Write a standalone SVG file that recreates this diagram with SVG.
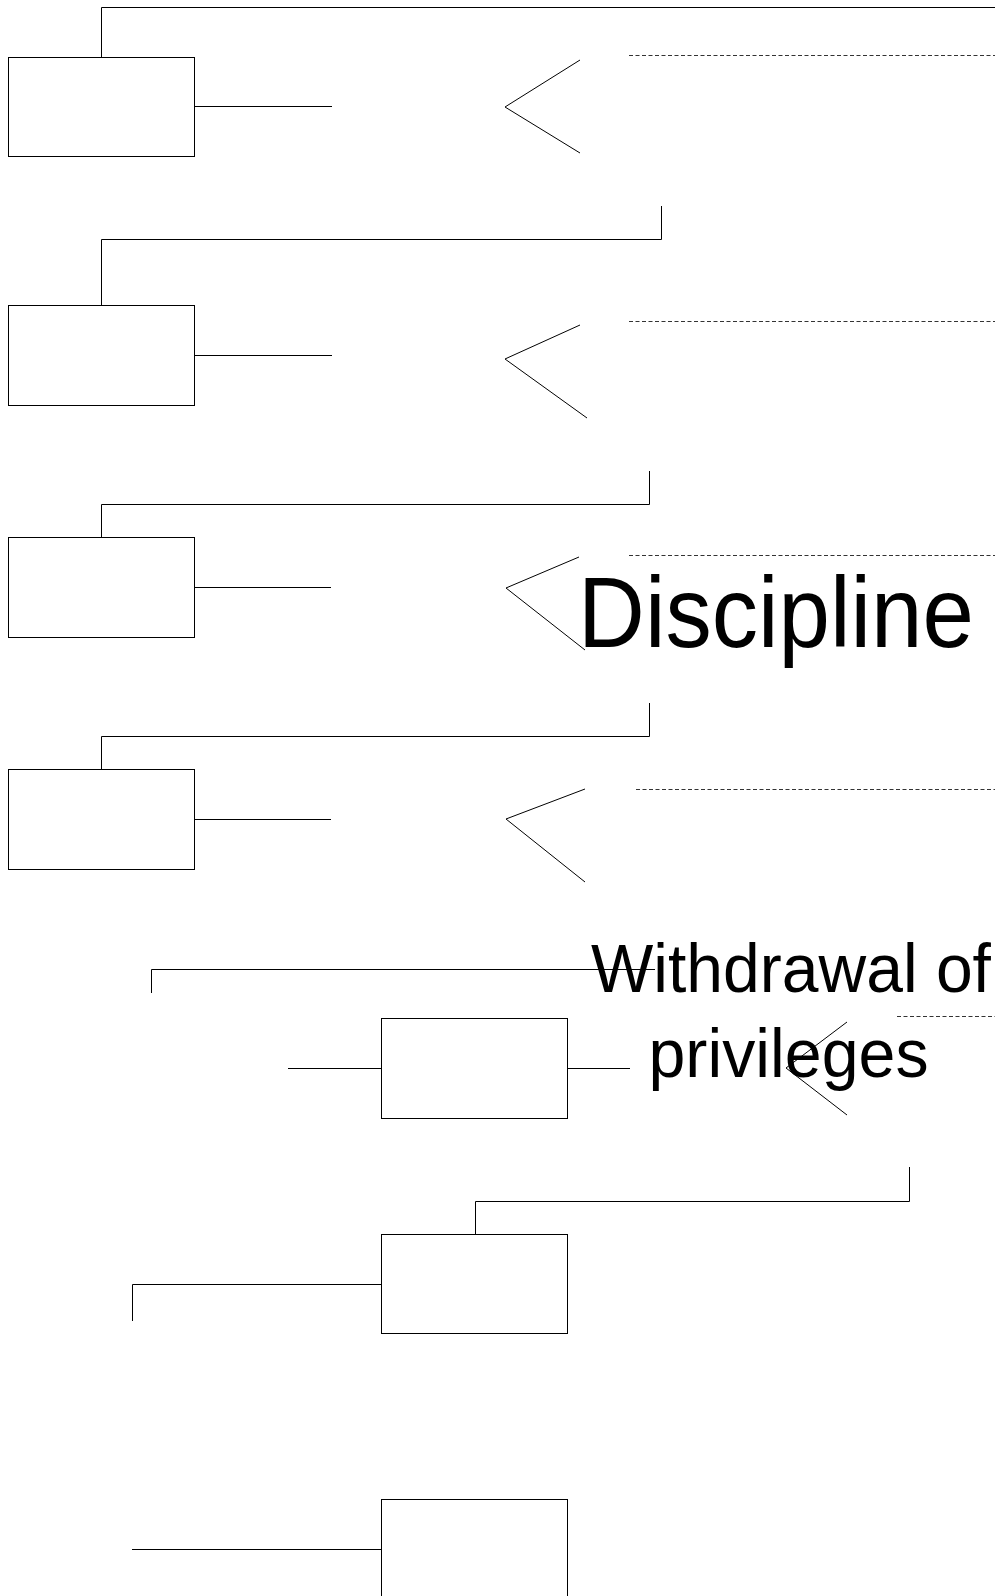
<svg xmlns="http://www.w3.org/2000/svg" width="995" height="1596" viewBox="0 0 995 1596">
<style>
.box{fill:#fff;stroke:#000;stroke-width:1}
.ln{fill:none;stroke:#000;stroke-width:1}
.dash{fill:none;stroke:#333;stroke-width:1;stroke-dasharray:4 2.5}
.lbl{font-family:"Liberation Sans",Arial,sans-serif;fill:#000;text-anchor:middle}
</style>
<rect width="995" height="1596" fill="#fff"/>
<g id="connectors">
<polyline class="ln" points="101.5,57 101.5,7.5 995,7.5"/>
<line class="ln" x1="195" y1="106.5" x2="332" y2="106.5"/>
<polyline class="ln" points="580,60 505,107 580,153"/>
<line class="dash" x1="629" y1="55.5" x2="995" y2="55.5"/>
<polyline class="ln" points="661.5,206 661.5,239.5 101.5,239.5 101.5,305"/>
<line class="ln" x1="195" y1="355.5" x2="332" y2="355.5"/>
<polyline class="ln" points="580,325 505,359 587,418"/>
<line class="dash" x1="629" y1="321.5" x2="995" y2="321.5"/>
<polyline class="ln" points="649.5,471 649.5,504.5 101.5,504.5 101.5,537"/>
<line class="ln" x1="195" y1="587.5" x2="331" y2="587.5"/>
<polyline class="ln" points="579,557 506,588 585,650"/>
<line class="dash" x1="629" y1="555.5" x2="995" y2="555.5"/>
<polyline class="ln" points="649.5,703 649.5,736.5 101.5,736.5 101.5,769"/>
<line class="ln" x1="195" y1="819.5" x2="331" y2="819.5"/>
<polyline class="ln" points="585,789 506,819 585,882"/>
<line class="dash" x1="636" y1="789.5" x2="995" y2="789.5"/>
<polyline class="ln" points="151.5,993 151.5,969.5 655,969.5"/>
<line class="ln" x1="288" y1="1068.5" x2="381" y2="1068.5"/>
<line class="ln" x1="568" y1="1068.5" x2="630" y2="1068.5"/>
<polyline class="ln" points="847,1022 786,1068 847,1115"/>
<line class="dash" x1="897" y1="1016.5" x2="995" y2="1016.5"/>
<polyline class="ln" points="909.5,1167 909.5,1201.5 475.5,1201.5 475.5,1234"/>
<polyline class="ln" points="381,1284.5 132.5,1284.5 132.5,1321"/>
<line class="ln" x1="132" y1="1549.5" x2="381" y2="1549.5"/>
</g>
<g id="node1"><rect class="box" x="8.5" y="57.5" width="186" height="99"/></g>
<g id="node2"><rect class="box" x="8.5" y="305.5" width="186" height="100"/></g>
<g id="node3"><rect class="box" x="8.5" y="537.5" width="186" height="100"/></g>
<g id="node4"><rect class="box" x="8.5" y="769.5" width="186" height="100"/></g>
<g id="node5"><rect class="box" x="381.5" y="1018.5" width="186" height="100"/></g>
<g id="node6"><rect class="box" x="381.5" y="1234.5" width="186" height="99"/></g>
<g id="node7"><rect class="box" x="381.5" y="1499.5" width="186" height="110"/></g>
<g id="labels">
<text class="lbl" transform="translate(776,647) scale(0.925,1)" x="0" y="0" font-size="100">Discipline</text>
<text class="lbl" transform="translate(791,992) scale(0.957,1)" x="0" y="0" font-size="69">Withdrawal of</text>
<text class="lbl" transform="translate(788.5,1077) scale(0.961,1)" x="0" y="0" font-size="69">privileges</text>
</g>
</svg>
